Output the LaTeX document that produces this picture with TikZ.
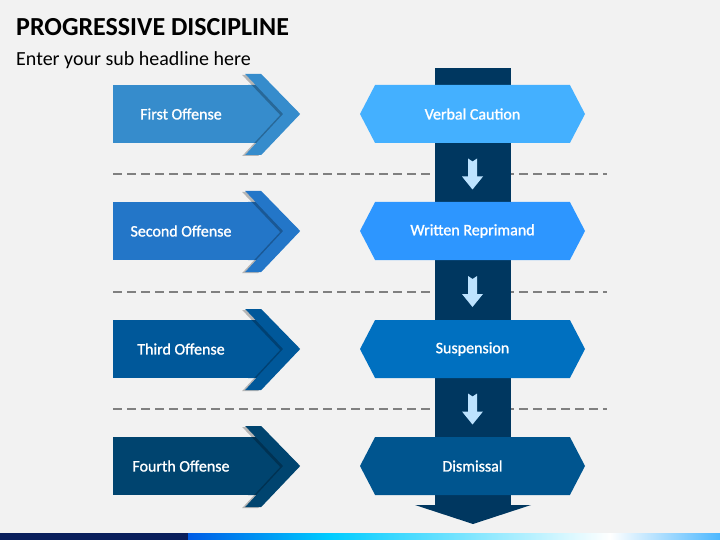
\documentclass[tikz,border=0pt]{standalone}
\usepackage{fontspec}
\setmainfont{Carlito}
\newfontfamily\boxfont[FakeBold=1.2]{Carlito}
\usepackage{tikz}
\usetikzlibrary{calc}
\usetikzlibrary{shapes.symbols}

\definecolor{slidebg}{HTML}{F2F2F2}
\definecolor{spine}{HTML}{003760}
\definecolor{offA}{HTML}{368CCC}
\definecolor{offB}{HTML}{2376C8}
\definecolor{offC}{HTML}{00589A}
\definecolor{offD}{HTML}{00446F}
\definecolor{actA}{HTML}{44B0FF}
\definecolor{actB}{HTML}{2D96FF}
\definecolor{actC}{HTML}{0070C0}
\definecolor{actD}{HTML}{00558F}
\definecolor{tickblue}{HTML}{BDE3FF}
\definecolor{navybar}{HTML}{0A1F5C}

\begin{document}
\begin{tikzpicture} [
    x=1pt, y=-1pt,
    every node/.style = {text=white, inner sep=0pt, font=\boxfont\fontsize{16}{19}\selectfont},
    offense/.style = {rectangle, minimum width=136pt, minimum height=58pt},
    action/.style = {signal, signal to=east and west, signal pointer angle=125,
                     minimum width=225pt, minimum height=58pt},
    divider/.style = {draw=black!50, line width=2pt, dash pattern=on 9pt off 5pt},
    chevron/.pic = {
        \fill (-1,-29) -- (22,-29) -- (50,0) -- (22,29) -- (-1,29) -- cycle;
        \fill[black, opacity=0.25] (-7,-39) -- (9,-39) -- (48,1) -- (9,42) -- (-7,42) -- (31,1) -- cycle;
        \fill (-4,-40) -- (12,-40) -- (51,0) -- (12,41) -- (-4,41) -- (34,0) -- cycle;
    },
    downtick/.pic = {
        \fill[tickblue] (-4.5,-15) -- (0,-12) -- (4.5,-15) -- (4.5,3) -- (10.5,3)
            -- (0,16) -- (-10.5,3) -- (-4.5,3) -- cycle;
    }
]
    \useasboundingbox (0,0) rectangle (720,540);
    \fill[slidebg] (0,0) rectangle (720,540);

    \node [anchor=base west, text=black, font=\fontsize{26}{30}\selectfont\bfseries] (title) at (16,36) {PROGRESSIVE DISCIPLINE};
    \node [anchor=base west, text=black, font=\fontsize{20}{24}\selectfont] (sub) at (16,66) {Enter your sub headline here};

    % separators, the spine covers them
    \draw[divider] (113,174) -- (607,174);
    \draw[divider] (113,292) -- (607,292);
    \draw[divider] (113,409) -- (607,409);

    \fill[spine] (435,68) rectangle (511,505);
    \fill[spine] (415,505) -- (531,505) -- (473,524) -- cycle;

    % offenses
    \node [offense, fill=offA] (o1) at (181,114) {First Offense};
    \pic [fill=offA] at (o1.east) {chevron};
    \node [offense, fill=offB] (o2) at (181,231) {Second Offense};
    \pic [fill=offB] at (o2.east) {chevron};
    \node [offense, fill=offC] (o3) at (181,349) {Third Offense};
    \pic [fill=offC] at (o3.east) {chevron};
    \node [offense, fill=offD] (o4) at (181,466) {Fourth Offense};
    \pic [fill=offD] at (o4.east) {chevron};

    % actions
    \node [action, fill=actA] (a1) at (472.5,114) {Verbal Caution};
    \node [action, fill=actB] (a2) at (472.5,231) {Written Reprimand};
    \node [action, fill=actC] (a3) at (472.5,349) {Suspension};
    \node [action, fill=actD] (a4) at (472.5,466) {Dismissal};

    \pic at ($(a1)!.5!(a2)+(0,1)$) {downtick};
    \pic at ($(a2)!.5!(a3)+(0,1)$) {downtick};
    \pic at ($(a3)!.5!(a4)+(0,1)$) {downtick};

    % bottom band
    \fill[navybar] (0,533) rectangle (188,540);
    \fill[left color=blue!60!cyan!90!black, right color=cyan!80!blue] (188,533) rectangle (330,540);
    \fill[left color=cyan!80!blue, right color=white] (330,533) rectangle (610,540);
    \fill[left color=white, right color=cyan!60!blue!70] (610,533) rectangle (720,540);
\end{tikzpicture}
\end{document}
